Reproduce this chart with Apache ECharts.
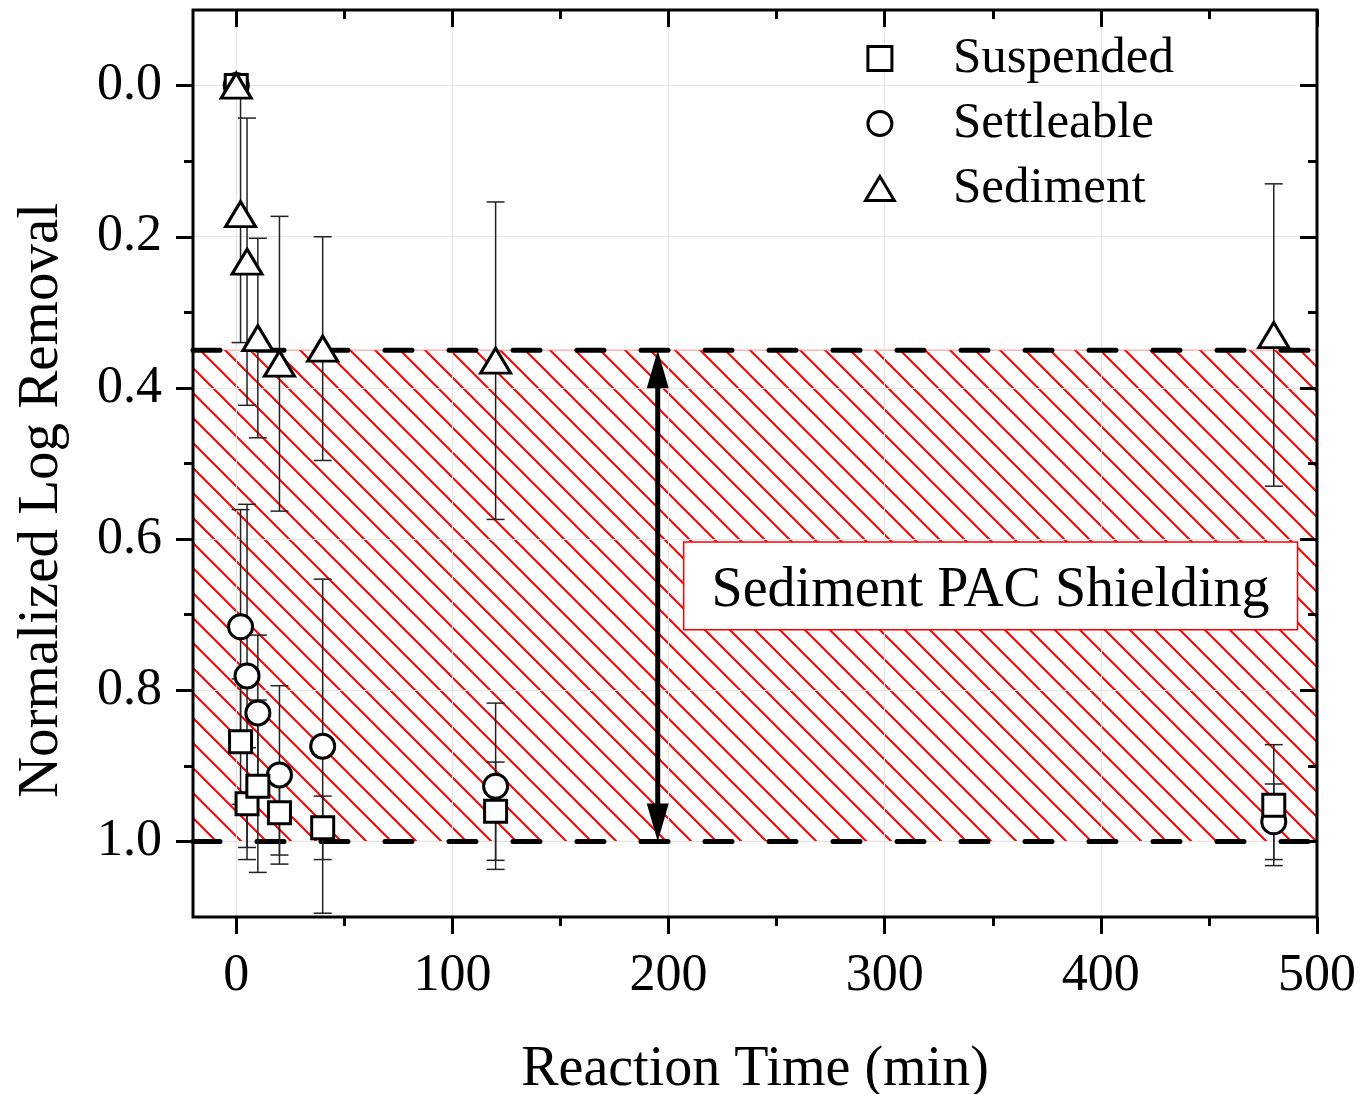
<!DOCTYPE html>
<html><head><meta charset="utf-8">
<script src="https://cdn.jsdelivr.net/npm/echarts@6/dist/echarts.min.js"></script>
<style>html,body{margin:0;padding:0;background:#fff}#chart{width:1364px;height:1094px}</style>
</head><body><div id="chart"></div>
<script>
// ---------------- data ----------------
const times = [0, 2, 5, 10, 20, 40, 120, 480];
const suspended    = [0, 0.868, 0.950, 0.927, 0.962, 0.982, 0.960, 0.952];
const suspendedErr = [0, 0.083, 0.074, 0.114, 0.056, 0.042, 0.065, 0.080];
const settleable    = [0, 0.716, 0.781, 0.830, 0.912, 0.874, 0.927, 0.974];
const settleableErr = [0, 0.155, 0.227, 0.103, 0.118, 0.221, 0.110, 0.050];
const sediment    = [0, 0.170, 0.233, 0.334, 0.368, 0.348, 0.364, 0.330];
const sedimentErr = [0, 0.170, 0.190, 0.132, 0.195, 0.148, 0.210, 0.200];
const seriesNames = ['Suspended', 'Settleable', 'Sediment'];
const xTickLabels = ['0', '100', '200', '300', '400', '500'];
const yTickLabels = ['0.0', '0.2', '0.4', '0.6', '0.8', '1.0'];
const shieldBand = [0.35, 1.0];
const arrowTime = 195;
const boxCorners = [207, 0.604, 491, 0.72];
const boxText = 'Sediment PAC Shielding';
const xTitle = 'Reaction Time (min)';
const yTitle = 'Normalized Log Removal';

// ---------------- layout ----------------
const X_MIN = -20, X_MAX = 500, Y_MIN = -0.1, Y_MAX = 1.1;
const CW = 1364, CH = 1094;
const LEFT = 193, RIGHT = 47, TOP = 10, BOTTOM = 177;
const W = CW - LEFT - RIGHT, H = CH - TOP - BOTTOM;
const x0px = LEFT + (0 - X_MIN) / (X_MAX - X_MIN) * W;
const y0px = TOP + (0 - Y_MIN) / (Y_MAX - Y_MIN) * H;
const y1px = TOP + (1 - Y_MIN) / (Y_MAX - Y_MIN) * H;
const FONT = '"Liberation Serif", "Times New Roman", serif';

function makeHatch() {
  const s = 25, c = document.createElement('canvas');
  c.width = s; c.height = s;
  const g = c.getContext('2d');
  g.strokeStyle = '#ff0000'; g.lineWidth = 2;
  g.beginPath();
  g.moveTo(-3, -3); g.lineTo(s + 3, s + 3);
  g.moveTo(s - 3, -3); g.lineTo(s + 3, 3);
  g.moveTo(-3, s - 3); g.lineTo(3, s + 3);
  g.stroke();
  return c;
}
const hatch = makeHatch();

function errRender(params, api) {
  const t = api.value(0), v = api.value(1), e = api.value(2);
  if (!e) return null;
  const a = api.coord([t, v - e]), b = api.coord([t, v + e]);
  const hw = 9, st = { stroke: '#222', lineWidth: 1.5 };
  return { type: 'group', children: [
    { type: 'line', shape: { x1: a[0], y1: a[1], x2: b[0], y2: b[1] }, style: st },
    { type: 'line', shape: { x1: a[0] - hw, y1: a[1], x2: a[0] + hw, y2: a[1] }, style: st },
    { type: 'line', shape: { x1: b[0] - hw, y1: b[1], x2: b[0] + hw, y2: b[1] }, style: st }
  ]};
}
function pts(vals) { return times.map((t, i) => [t, vals[i]]); }
function errPts(vals, errs) { return times.map((t, i) => [t, vals[i], errs[i]]); }

const tickLine = { color: '#000', width: 3 };
const labelStyle = { fontFamily: FONT, fontSize: 52, color: '#000' };
const gridLine = { show: true, lineStyle: { color: '#e4e4e4', width: 1 } };
const noLine = { show: false, onZero: false };

const markerStyle = { color: '#fff', borderColor: '#000', borderWidth: 3, opacity: 1 };

const option = {
  animation: false,
  backgroundColor: '#fff',
  grid: [
    { left: LEFT, right: RIGHT, top: TOP, bottom: BOTTOM, show: true, borderColor: '#000', borderWidth: 3,
      backgroundColor: 'transparent', z: 10, containLabel: false, outerBoundsMode: 'none' },
    { left: x0px, right: RIGHT, top: TOP, bottom: BOTTOM, show: false, containLabel: false, outerBoundsMode: 'none' },
    { left: LEFT, right: RIGHT, top: y0px, bottom: CH - y1px, show: false, containLabel: false, outerBoundsMode: 'none' }
  ],
  xAxis: [
    { gridIndex: 0, type: 'value', min: X_MIN, max: X_MAX, axisLine: noLine, axisTick: { show: false },
      axisLabel: { show: false }, splitLine: { show: false },
      name: xTitle, nameLocation: 'middle', nameGap: 125,
      nameTextStyle: { fontFamily: FONT, fontSize: 56, color: '#000' } },
    { gridIndex: 1, type: 'value', position: 'bottom', min: 0, max: 500, interval: 100, z: 2,
      axisLine: noLine,
      axisTick: { show: true, inside: false, length: 17, lineStyle: tickLine },
      minorTick: { show: true, splitNumber: 2, length: 9, lineStyle: tickLine },
      axisLabel: Object.assign({ margin: 33, showMinLabel: true, showMaxLabel: true, hideOverlap: false,
        formatter: v => xTickLabels[Math.round(v / 100)] }, labelStyle),
      splitLine: gridLine },
    { gridIndex: 1, type: 'value', position: 'top', min: 0, max: 500, interval: 100, z: 2,
      axisLine: noLine,
      axisTick: { show: true, inside: true, length: 17, lineStyle: tickLine },
      minorTick: { show: true, splitNumber: 2, length: 9, lineStyle: tickLine },
      axisLabel: { show: false }, splitLine: { show: false } },
    { gridIndex: 2, type: 'value', min: X_MIN, max: X_MAX, show: false, axisLine: noLine }
  ],
  yAxis: [
    { gridIndex: 0, type: 'value', inverse: true, min: Y_MIN, max: Y_MAX, axisLine: noLine, axisTick: { show: false },
      axisLabel: { show: false }, splitLine: { show: false },
      name: yTitle, nameLocation: 'middle', nameGap: 122, nameRotate: 90,
      nameTextStyle: { fontFamily: FONT, fontSize: 57, color: '#000', padding: [0, 74, 0, 0] } },
    { gridIndex: 1, type: 'value', inverse: true, min: Y_MIN, max: Y_MAX, show: false, axisLine: noLine },
    { gridIndex: 2, type: 'value', position: 'left', inverse: true, min: 0, max: 1, interval: 0.2, z: 2,
      axisLine: noLine,
      axisTick: { show: true, inside: false, length: 17, lineStyle: tickLine },
      minorTick: { show: true, splitNumber: 2, length: 9, lineStyle: tickLine },
      axisLabel: Object.assign({ margin: 31, showMinLabel: true, showMaxLabel: true, hideOverlap: false,
        formatter: v => yTickLabels[Math.round(v / 0.2)] }, labelStyle),
      splitLine: gridLine },
    { gridIndex: 2, type: 'value', position: 'right', inverse: true, min: 0, max: 1, interval: 0.2, z: 2,
      axisLine: noLine,
      axisTick: { show: true, inside: true, length: 17, lineStyle: tickLine },
      minorTick: { show: true, splitNumber: 2, length: 9, lineStyle: tickLine },
      axisLabel: { show: false }, splitLine: { show: false } }
  ],
  legend: {
    orient: 'vertical', left: 859, top: 28, itemGap: 14, itemWidth: 136, itemHeight: 24,
    selectedMode: false,
    itemStyle: markerStyle,
    textStyle: { fontFamily: FONT, fontSize: 51, color: '#000' },
    data: [
      { name: seriesNames[0], icon: 'path://M0,0H22V22H0Z' },
      { name: seriesNames[1], icon: 'circle' },
      { name: seriesNames[2], icon: 'path://M15,0L30,25L0,25Z' }
    ]
  },
  series: [
    { name: 'band', type: 'custom', z: 1, silent: true, xAxisIndex: 0, yAxisIndex: 0,
      data: [[X_MIN, shieldBand[0], X_MAX, shieldBand[1]]], encode: { x: [0, 2], y: [1, 3] },
      renderItem: (p, api) => {
        const a = api.coord([api.value(0), api.value(1)]), b = api.coord([api.value(2), api.value(3)]);
        return { type: 'rect', shape: { x: a[0], y: a[1], width: b[0] - a[0], height: b[1] - a[1] },
          style: { fill: { image: hatch, repeat: 'repeat' }, stroke: 'rgba(255,0,0,0.45)', lineWidth: 1 } };
      } },
    { name: 'dashes', type: 'custom', z: 3, silent: true, xAxisIndex: 0, yAxisIndex: 0,
      data: shieldBand.map(v => [X_MIN, v, X_MAX]), encode: { x: [0, 2], y: 1 },
      renderItem: (p, api) => {
        const a = api.coord([api.value(0), api.value(1)]), b = api.coord([api.value(2), api.value(1)]);
        return { type: 'line', shape: { x1: a[0], y1: a[1], x2: b[0], y2: b[1] },
          style: { stroke: '#000', lineWidth: 5, lineDash: [27, 37], lineCap: 'round' } };
      } },
    { name: 'arrow', type: 'custom', z: 3, silent: true, xAxisIndex: 0, yAxisIndex: 0,
      data: [[arrowTime, shieldBand[0], shieldBand[1]]], encode: { x: 0, y: [1, 2] },
      renderItem: (p, api) => {
        const a = api.coord([api.value(0), api.value(1)]), b = api.coord([api.value(0), api.value(2)]);
        const hl = 38, hw = 11;
        return { type: 'group', children: [
          { type: 'line', shape: { x1: a[0], y1: a[1] + hl - 4, x2: b[0], y2: b[1] - hl + 4 }, style: { stroke: '#000', lineWidth: 5 } },
          { type: 'polygon', shape: { points: [[a[0], a[1]], [a[0] - hw, a[1] + hl], [a[0] + hw, a[1] + hl]] }, style: { fill: '#000' } },
          { type: 'polygon', shape: { points: [[b[0], b[1]], [b[0] - hw, b[1] - hl], [b[0] + hw, b[1] - hl]] }, style: { fill: '#000' } }
        ]};
      } },
    { name: 'box', type: 'custom', z: 4, silent: true, xAxisIndex: 0, yAxisIndex: 0,
      data: [boxCorners], encode: { x: [0, 2], y: [1, 3] },
      renderItem: (p, api) => {
        const a = api.coord([api.value(0), api.value(1)]), b = api.coord([api.value(2), api.value(3)]);
        return { type: 'group', children: [
          { type: 'rect', shape: { x: a[0], y: a[1], width: b[0] - a[0], height: b[1] - a[1] },
            style: { fill: '#fff', stroke: '#ff0000', lineWidth: 1.5 } },
          { type: 'text', x: (a[0] + b[0]) / 2, y: (a[1] + b[1]) / 2 + 5,
            style: { text: boxText, fontFamily: FONT, fontSize: 56, fill: '#000', align: 'center', verticalAlign: 'middle' } }
        ]};
      } },
    { name: 'errSusp', type: 'custom', z: 5, silent: true, data: errPts(suspended, suspendedErr), encode: { x: 0, y: 1 }, renderItem: errRender },
    { name: 'errSett', type: 'custom', z: 5, silent: true, data: errPts(settleable, settleableErr), encode: { x: 0, y: 1 }, renderItem: errRender },
    { name: 'errSed', type: 'custom', z: 5, silent: true, data: errPts(sediment, sedimentErr), encode: { x: 0, y: 1 }, renderItem: errRender },
    { name: seriesNames[1], type: 'scatter', z: 6, data: pts(settleable), symbol: 'circle', symbolSize: 24,
      itemStyle: markerStyle, emphasis: { disabled: true } },
    { name: seriesNames[0], type: 'scatter', z: 7, data: pts(suspended), symbol: 'rect', symbolSize: 22,
      itemStyle: markerStyle, emphasis: { disabled: true } },
    { name: seriesNames[2], type: 'scatter', z: 8, data: pts(sediment), symbol: 'triangle', symbolSize: [30, 25],
      itemStyle: markerStyle, emphasis: { disabled: true } }
  ]
};
const chart = echarts.init(document.getElementById('chart'), null, { renderer: 'canvas' });
chart.setOption(option);
</script>
</body></html>
